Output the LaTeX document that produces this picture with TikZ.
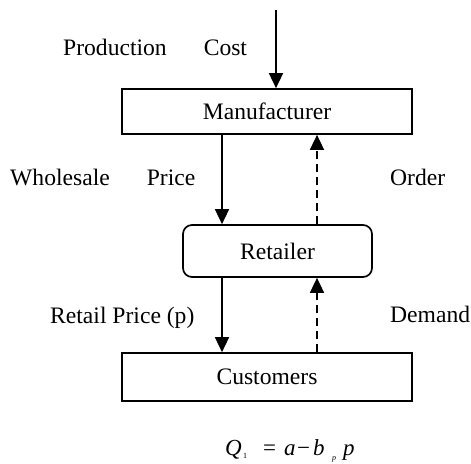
\documentclass[tikz,border=0pt]{standalone}
\usepackage{fontspec}
\setmainfont{Liberation Serif}
\usetikzlibrary{arrows.meta}
\begin{document}
\begin{tikzpicture}[x=1pt,y=-1pt,
  every node/.style={font=\fontsize{23.6}{28}\selectfont, inner sep=0pt},
  sqbox/.style={draw, line width=1.7pt, rectangle},
  rndbox/.style={draw, line width=1.7pt, rectangle, rounded corners=9pt},
  arr/.style={line width=1.6pt, -{Triangle[width=14pt,length=15pt]}},
  darr/.style={arr, dash pattern=on 8pt off 5pt},
  lbl/.style={anchor=base west}]
\useasboundingbox (0,0) rectangle (471,463);
\node[sqbox, minimum width=290pt, minimum height=45pt] (man) at (267,111.5) {Manufacturer};
\node[rndbox, minimum width=189pt, minimum height=52pt] (ret) at (277.5,251) {Retailer};
\node[sqbox, minimum width=290pt, minimum height=48pt] (cus) at (267,377) {Customers};
\coordinate (top) at (276,10);
\coordinate (xL) at (222,0);
\coordinate (xR) at (317,0);
\draw[arr] (top) -- (top |- man.north);
\draw[arr] (xL |- man.south) -- (xL |- ret.north);
\draw[darr] (xR |- ret.north) -- (xR |- man.south);
\draw[arr] (xL |- ret.south) -- (xL |- cus.north);
\draw[darr] (xR |- cus.north) -- (xR |- ret.south);
\node[lbl] (lprod) at (63,55) {Production\hspace{37pt}Cost};
\node[lbl] (lwp) at (10,185) {Wholesale\hspace{37pt}Price};
\node[lbl] (lord) at (390,185) {Order};
\node[lbl] (lrp) at (50,323) {Retail Price (p)};
\node[lbl] (ldem) at (390,322) {Demand};
\node[lbl, font=\fontsize{23}{25}\selectfont] (form) at (225,455)
  {\makebox[18pt][l]{\textit{Q}}\makebox[20pt][l]{\raisebox{-3pt}{\fontsize{8}{8}\selectfont 1}}\makebox[21pt][l]{=}\makebox[13pt][l]{\textit{a}}\makebox[16pt][l]{−}\makebox[19pt][l]{\textit{b}}\makebox[11pt][l]{\raisebox{-5pt}{\fontsize{8}{8}\selectfont\textit{p}}}\textit{p}};
\end{tikzpicture}
\end{document}
